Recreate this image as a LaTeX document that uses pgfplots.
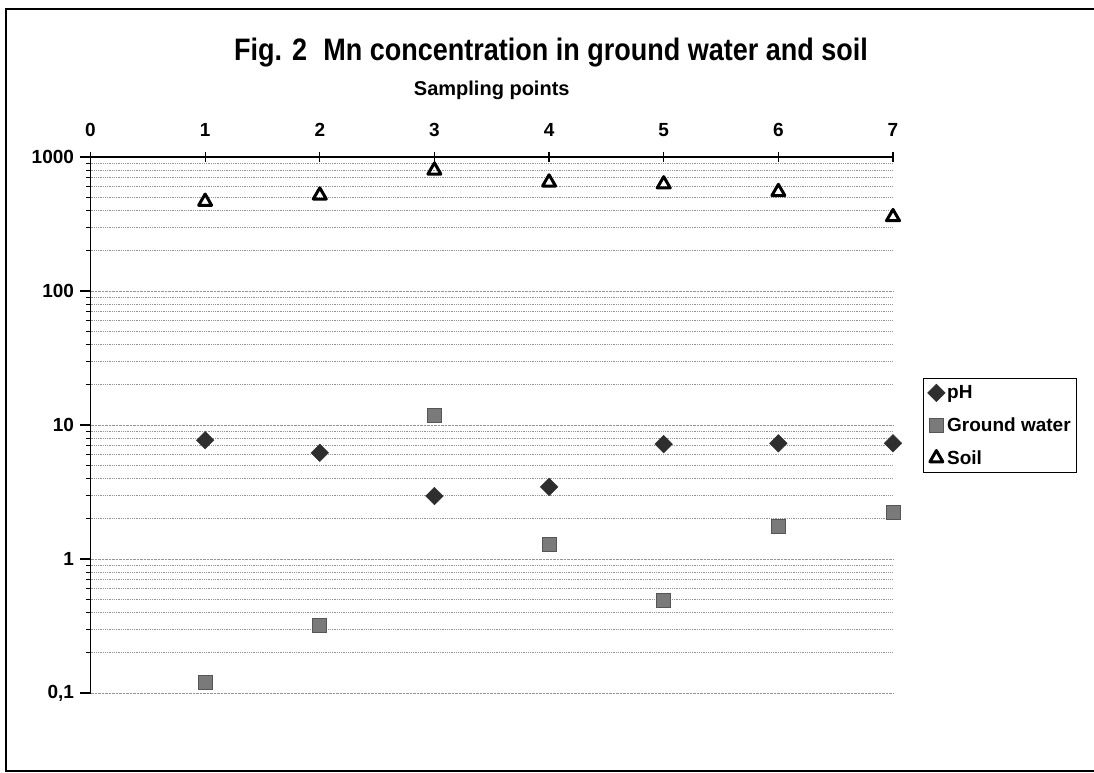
\documentclass[border=0pt]{standalone}
\usepackage{fontspec}
\setmainfont{Liberation Sans}
\usepackage{pgfplots}
\pgfplotsset{compat=1.18}
\definecolor{phgray}{HTML}{2E2E2E}
\definecolor{gwgray}{HTML}{7A7A7A}
\begin{document}
\begin{tikzpicture}
\useasboundingbox (0pt,0pt) rectangle (1094pt,-773pt);
% chart frame
\draw[line width=1.3pt] (1100pt,-9pt) -- (6pt,-9pt) -- (6pt,-771pt) -- (1100pt,-771pt);
\node[font=\fontsize{27}{30}\selectfont\bfseries] at (551pt,-53pt)
  {\scalebox{1}[1.15]{Fig. 2\hspace{0.6em}Mn concentration in ground water and soil}};
\begin{axis}[
  at={(90.5pt,-693pt)}, anchor=south west,
  scale only axis, width=802.5pt, height=536pt,
  xmin=0, xmax=7, ymode=log, ymin=0.1, ymax=1000,
  axis x line*=top, axis y line*=left,
  axis line style={line width=1.6pt, black},
  xtick={0,1,2,3,4,5,6,7},
  xticklabels={0,1,2,3,4,5,6,7},
  ytick={0.1,1,10,100,1000},
  yticklabels={{0,1},1,10,100,1000},
  minor ytick={0.2,0.3,0.4,0.5,0.6,0.7,0.8,0.9,2,3,4,5,6,7,8,9,20,30,40,50,60,70,80,90,200,300,400,500,600,700,800,900},
  xtick align=center, ytick align=outside,
  major tick length=10pt, minor tick length=4pt,
  tick style={line width=1.2pt, black},
  minor tick style={line width=0.8pt, black},
  ymajorgrids=true, yminorgrids=true,
  grid style={densely dotted, gray!85, line width=0.8pt},
  minor grid style={densely dotted, gray!85, line width=0.8pt},
  ticklabel style={font=\fontsize{19}{20}\selectfont\bfseries},
  xticklabel style={anchor=center, yshift=22pt},
  yticklabel style={anchor=east, xshift=-3pt},
  xlabel={Sampling points},
  xlabel style={font=\fontsize{20}{22}\selectfont\bfseries, at={(axis description cs:0.5,1)}, anchor=center, yshift=67pt},
  clip=false,
  only marks,
  legend image code/.code={\draw[mark repeat=2,mark phase=2] plot coordinates {(0pt,0pt)(8pt,0pt)(16pt,0pt)};},
  legend style={at={(1.0374,0.5877)}, anchor=north west, draw=black, line width=1.2pt,
    font=\fontsize{19}{21}\selectfont\bfseries, row sep=13.5pt, inner xsep=4pt, inner ysep=5pt,
    legend cell align=left},
]
\addplot[mark=square*, mark size=6.2pt, mark options={rotate=45, fill=phgray, draw=phgray, line width=0.5pt}]
  coordinates {(1,7.7)(2,6.2)(3,2.95)(4,3.45)(5,7.2)(6,7.3)(7,7.3)};
\addlegendentry{pH}
\addplot[mark=square*, mark size=7pt, mark options={fill=gwgray, draw=gwgray!70!black, line width=0.6pt}]
  coordinates {(1,0.12)(2,0.32)(3,11.9)(4,1.28)(5,0.49)(6,1.74)(7,2.25)};
\addlegendentry{Ground water}
\addplot[mark=triangle, mark size=7.5pt, mark options={draw=black, fill=white, line width=3pt, line join=round}]
  coordinates {(1,465)(2,518)(3,795)(4,648)(5,627)(6,550)(7,357)};
\addlegendentry{Soil}
\end{axis}
\end{tikzpicture}
\end{document}
